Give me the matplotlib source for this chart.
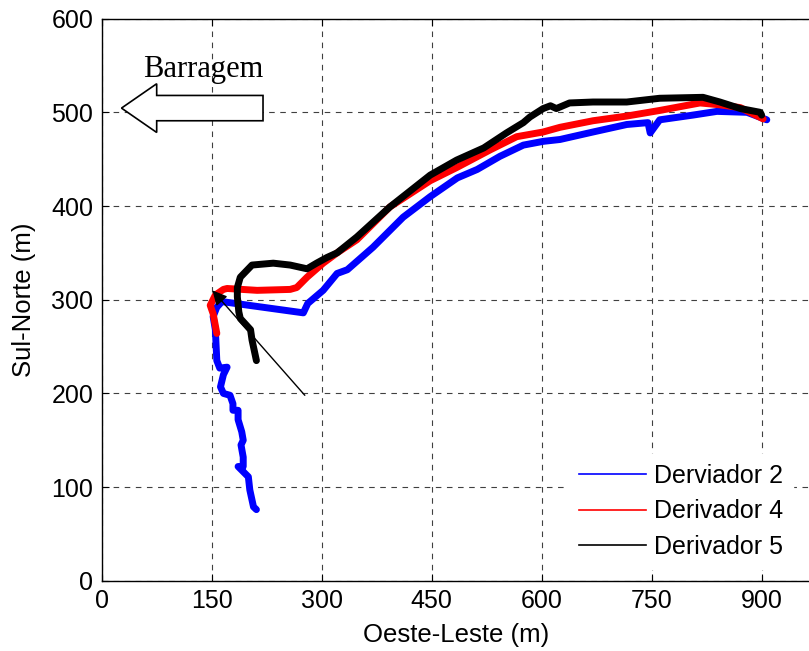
import numpy as np
import matplotlib
matplotlib.use('Agg')
import matplotlib.pyplot as plt
import matplotlib.patches as mpatches
from matplotlib.lines import Line2D

# ── Data ──────────────────────────────────────────────────────────────────────
d2_x = [211, 207, 202, 200, 186, 193, 193, 190, 193, 191, 186, 186, 179, 179, 175, 166,
        162, 166, 171, 161, 157, 155, 152, 157, 164, 275, 281, 302, 321, 335, 370, 411,
        448, 485, 512, 543, 575, 602, 625, 670, 716, 745, 748, 761, 806, 839, 880, 907]
d2_y = [76, 79, 97, 111, 122, 122, 132, 145, 150, 159, 172, 182, 182, 189, 198, 200,
        207, 220, 228, 227, 235, 268, 282, 292, 298, 286, 296, 310, 328, 332, 356, 388,
        410, 430, 439, 453, 465, 469, 471, 479, 487, 489, 478, 492, 497, 501, 500, 492]

d4_x = [157, 152, 148, 155, 166, 171, 212, 257, 266, 280, 302, 321, 348, 393, 448, 484,
        530, 566, 602, 625, 670, 716, 761, 816, 843, 871, 902]
d4_y = [264, 285, 294, 305, 311, 312, 310, 311, 313, 324, 339, 350, 364, 399, 427, 441,
        460, 474, 479, 484, 491, 496, 502, 510, 508, 505, 493]

d5_x = [211, 205, 203, 189, 187, 185, 185, 189, 205, 234, 257, 280, 293, 307, 321, 348,
        393, 448, 484, 521, 552, 575, 584, 602, 612, 620, 638, 670, 716, 761, 820, 843,
        871, 898, 900]
d5_y = [235, 257, 268, 280, 287, 303, 313, 324, 337, 339, 337, 333, 339, 345, 350, 367,
        399, 433, 449, 462, 478, 489, 495, 504, 507, 504, 510, 511, 511, 515, 516, 511,
        504, 500, 497]

labels = ['Derviador 2', 'Derivador 4', 'Derivador 5']
colors = ['#0000ff', '#ff0000', '#000000']
x_ticks = [0, 150, 300, 450, 600, 750, 900]
y_ticks = [0, 100, 200, 300, 400, 500, 600]

# ── Figure ────────────────────────────────────────────────────────────────────
plt.rcParams['font.family'] = ['Liberation Sans', 'DejaVu Sans']
fig = plt.figure(figsize=(8.09, 6.51), dpi=100)
# eixo direito fica fora da imagem, como no original recortado
ax = fig.add_axes([0.1257, 0.1078, 968 * 0.7333 / 809, 0.8636])

for xs, ys, c in zip([d2_x, d4_x, d5_x], [d2_y, d4_y, d5_y], colors):
    ax.plot(xs, ys, color=c, linewidth=5, solid_capstyle='round',
            solid_joinstyle='round', zorder=3)

# seta "Barragem"
ax.add_patch(mpatches.FancyArrow(220, 504.5, -193, 0, width=27, head_width=52,
                                 head_length=48, length_includes_head=True,
                                 facecolor='white', edgecolor='black', linewidth=1.2,
                                 zorder=4))
ax.text(139, 546, 'Barragem', family='Liberation Serif', fontsize=22,
        ha='center', va='center', zorder=5)

# seta fina apontando o ponto de lançamento
ax.annotate('', xy=(151, 310), xytext=(277, 198),
            arrowprops=dict(arrowstyle='-|>', color='black', lw=1.0,
                            mutation_scale=22, shrinkA=0, shrinkB=0), zorder=5)

ax.set_xlim(0, 968)
ax.set_ylim(0, 600)
ax.set_xticks(x_ticks)
ax.set_yticks(y_ticks)
ax.tick_params(direction='in', length=5, width=0.8, top=True, right=False,
               labelsize=18, pad=6)
ax.grid(True, color='0.25', linestyle=(0, (5, 5)), linewidth=0.8)
ax.set_axisbelow(True)
for s in ax.spines.values():
    s.set_linewidth(1.0)
ax.spines['right'].set_visible(False)

ax.set_xlabel('Oeste-Leste (m)', fontsize=18.5, labelpad=7)
ax.set_ylabel('Sul-Norte (m)', fontsize=18.5, labelpad=11)

handles = [Line2D([], [], color=c, linewidth=1.2) for c in colors]
leg = ax.legend(handles, labels, loc='upper left', bbox_to_anchor=(0.658, 0.226),
                borderaxespad=0, fontsize=18, frameon=True, fancybox=False,
                handlelength=2.7, handletextpad=0.3, labelspacing=0.46,
                borderpad=0.4)
leg.get_frame().set_edgecolor('white')
leg.get_frame().set_alpha(1)
leg.set_zorder(6)

fig.savefig('out.png', dpi=100)
